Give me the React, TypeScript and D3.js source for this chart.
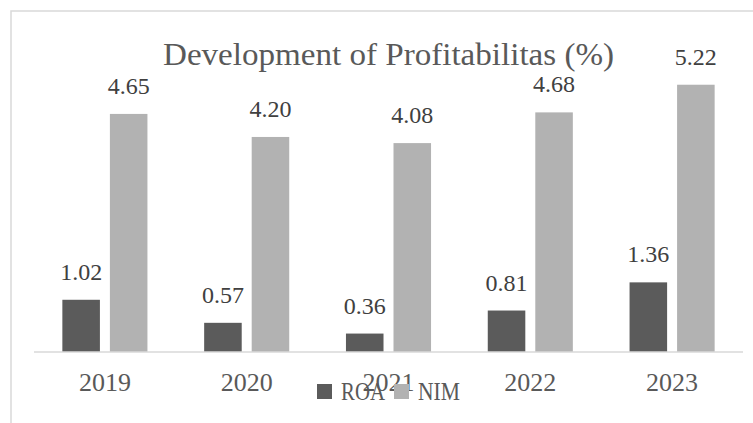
import React from "react";
import * as d3 from "d3";

const years = ["2019", "2020", "2021", "2022", "2023"];
const seriesNames = ["ROA", "NIM"];
const roa = [1.02, 0.57, 0.36, 0.81, 1.36];
const nim = [4.65, 4.2, 4.08, 4.68, 5.22];
const colors = ["#5b5b5b", "#b2b2b2"];
const title = "Development of Profitabilitas (%)";

const W = 753;
const H = 423;
const FONT = "'Liberation Serif', 'Times New Roman', serif";

export default function App() {
  const left = 34;
  const right = 743;
  const base = 352;
  const x0 = d3.scaleBand<string>().domain(years).range([left, right]).paddingInner(0.4).paddingOuter(0.2);
  const x1 = d3.scaleBand<string>().domain(seriesNames).range([0, x0.bandwidth()]).paddingInner(0.21).paddingOuter(0);
  const y = d3.scaleLinear().domain([0, 6]).range([base, base - 6 * 51.2]);
  const values = [roa, nim];
  const cx = (left + right) / 2;

  return (
    <svg width={W} height={H} style={{ position: "absolute", left: 0, top: 0, background: "#fff" }}>
      <rect x={11} y={11} width={W + 20} height={H + 20} fill="#fff" stroke="#d9d9d9" strokeWidth={1.5} />
      <text x={cx} y={65} textAnchor="middle" fontFamily={FONT} fontSize={31} fill="#595959" textLength={451} lengthAdjust="spacingAndGlyphs">
        {title}
      </text>
      {years.map((yr, i) => (
        <g key={yr}>
          {seriesNames.map((s, j) => {
            const v = values[j][i];
            const bx = (x0(yr) as number) + (x1(s) as number);
            return (
              <g key={s}>
                <rect x={bx} y={y(v)} width={x1.bandwidth()} height={base - y(v)} fill={colors[j]} />
                <text x={bx + x1.bandwidth() / 2} y={y(v) - 20} textAnchor="middle" fontFamily={FONT} fontSize={24} fill="#404040">
                  {v.toFixed(2)}
                </text>
              </g>
            );
          })}
        </g>
      ))}
      <line x1={left} x2={right} y1={base} y2={base} stroke="#d9d9d9" strokeWidth={1.5} />
      {years.map((yr) => (
        <text key={yr} x={(x0(yr) as number) + x0.bandwidth() / 2} y={391} textAnchor="middle" fontFamily={FONT} fontSize={26} fill="#595959">
          {yr}
        </text>
      ))}
      <g>
        <rect x={317} y={384} width={15} height={15} fill={colors[0]} />
        <text x={341} y={400} fontFamily={FONT} fontSize={25} fill="#595959" textLength={44} lengthAdjust="spacingAndGlyphs">{seriesNames[0]}</text>
        <rect x={394} y={384} width={15} height={15} fill={colors[1]} />
        <text x={418} y={400} fontFamily={FONT} fontSize={25} fill="#595959" textLength={42} lengthAdjust="spacingAndGlyphs">{seriesNames[1]}</text>
      </g>
    </svg>
  );
}
